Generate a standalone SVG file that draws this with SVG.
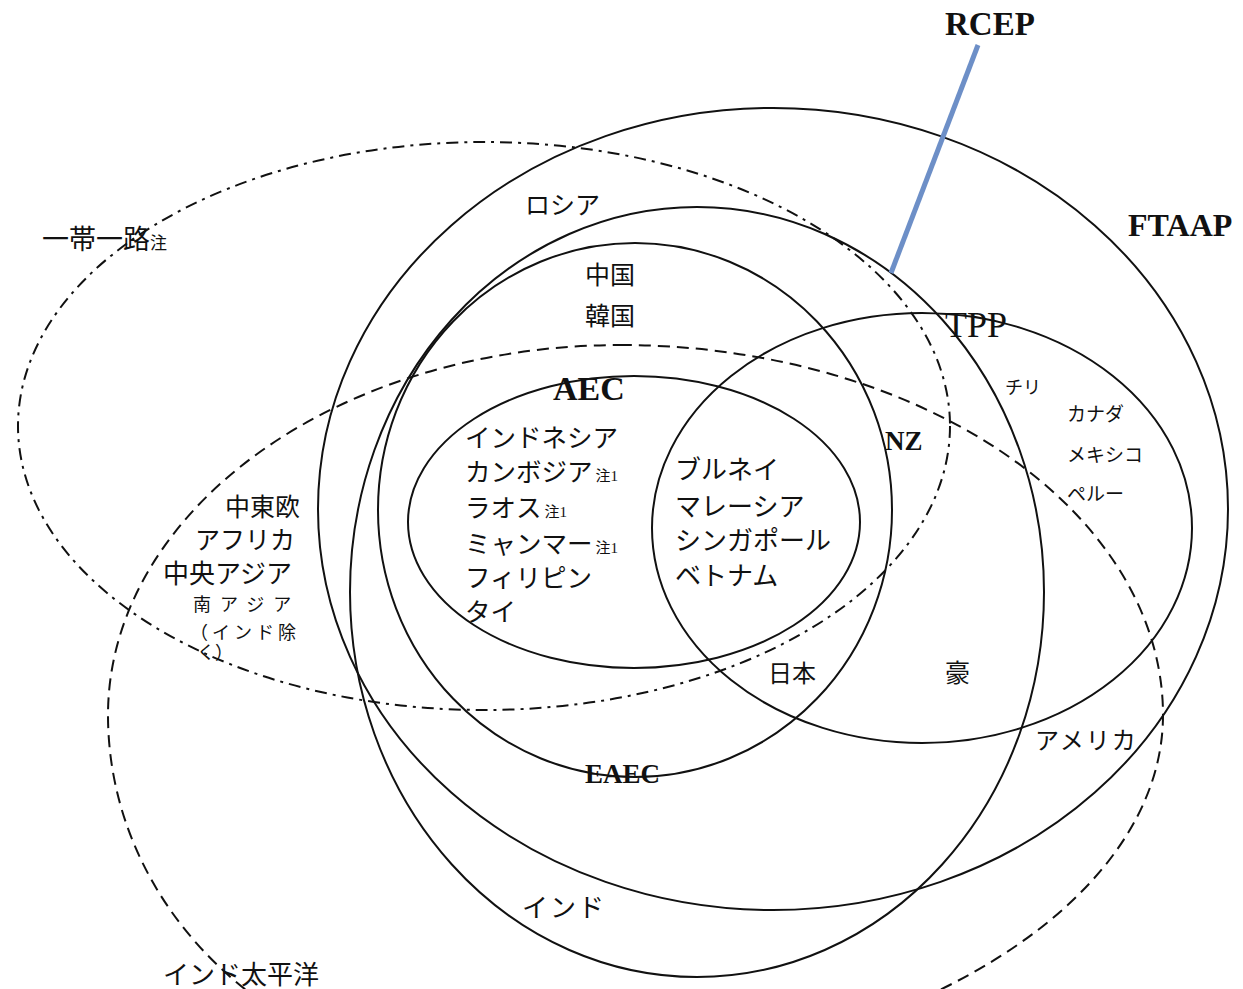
<svg xmlns="http://www.w3.org/2000/svg" width="1243" height="989" viewBox="0 0 1243 989">
<style>
.c{fill:none;stroke:#111;stroke-width:2}
.dash{fill:none;stroke:#111;stroke-width:2;stroke-dasharray:12 7}
.dd{fill:none;stroke:#111;stroke-width:2;stroke-dasharray:12 6 3 6}
.lat{font-family:"Liberation Serif",serif;fill:#111}
.jp{font-family:"Liberation Serif","Noto Sans CJK JP",serif;fill:#111}
.b{font-weight:bold}
</style>
<rect width="1243" height="989" fill="#fff"/>
<g id="ftaap">
<ellipse class="c" cx="773" cy="509" rx="455" ry="401"/>
<text class="lat b" x="1128" y="236" font-size="32">FTAAP</text>
<text class="jp" x="525" y="214" font-size="25">ロシア</text>
<text class="jp" x="1067" y="421" font-size="19">カナダ</text>
<text class="jp" x="1067" y="462" font-size="19">メキシコ</text>
<text class="jp" x="1067" y="501" font-size="19">ペルー</text>
<text class="jp" x="1035" y="749" font-size="24" letter-spacing="2">アメリカ</text>
</g>
<g id="rcep">
<ellipse class="c" cx="697" cy="592" rx="347" ry="385"/>
<text class="lat b" x="945" y="35" font-size="33">RCEP</text>
<text class="lat b" x="885" y="450" font-size="27">NZ</text>
<text class="jp" x="945" y="682" font-size="25">豪</text>
<text class="jp" x="522" y="917" font-size="26" letter-spacing="2">インド</text>
</g>
<g id="eaec">
<ellipse class="c" cx="635" cy="510" rx="257" ry="267"/>
<text class="lat b" x="585" y="783" font-size="27">EAEC</text>
<text class="jp" x="585" y="284" font-size="25">中国</text>
<text class="jp" x="585" y="325" font-size="25">韓国</text>
<text class="jp" x="768" y="682" font-size="24">日本</text>
</g>
<g id="aec">
<ellipse class="c" cx="634" cy="522" rx="226" ry="146"/>
<text class="lat b" x="553" y="400" font-size="34">AEC</text>
<text class="jp" x="465" y="447" font-size="25.5">インドネシア</text>
<text class="jp" x="465" y="481" font-size="25.5">カンボジア<tspan font-size="15" dx="3">注1</tspan></text>
<text class="jp" x="465" y="517" font-size="25.5">ラオス<tspan font-size="15" dx="3">注1</tspan></text>
<text class="jp" x="465" y="553" font-size="25.5">ミャンマー<tspan font-size="15" dx="3">注1</tspan></text>
<text class="jp" x="465" y="587" font-size="25.5">フィリピン</text>
<text class="jp" x="465" y="621" font-size="25.5">タイ</text>
<text class="jp" x="675" y="479" font-size="26">ブルネイ</text>
<text class="jp" x="675" y="516" font-size="26">マレーシア</text>
<text class="jp" x="675" y="550" font-size="26">シンガポール</text>
<text class="jp" x="675" y="585" font-size="26">ベトナム</text>
</g>
<g id="tpp">
<ellipse class="c" cx="922" cy="528" rx="270" ry="215"/>
<text class="lat" x="945" y="337" font-size="36">TPP</text>
<text class="jp" x="1005" y="394" font-size="18">チリ</text>
</g>
<g id="indo-pacific">
<path class="dash" d="M620 345 A543 370 0 0 1 1163 715 A652 365 0 0 1 511 1080 A403 365 0 0 1 108 715 A512 370 0 0 1 620 345 Z"/>
<text class="jp" x="163" y="984" font-size="26">インド太平洋</text>
</g>
<g id="bri">
<ellipse class="dd" cx="484" cy="426" rx="466" ry="284"/>
<text class="jp" x="42" y="249" font-size="27">一帯一路<tspan font-size="17">注</tspan></text>
<text class="jp" x="225" y="516" font-size="25">中東欧</text>
<text class="jp" x="195" y="549" font-size="25">アフリカ</text>
<text class="jp" x="163" y="583" font-size="26">中央アジア</text>
<text class="jp" x="193" y="611" font-size="18" letter-spacing="9">南アジア</text>
<text class="jp" x="190" y="639" font-size="18" letter-spacing="4">（インド除</text>
<text class="jp" x="197" y="659" font-size="18">く）</text>
</g>
<g id="connectors">
<line x1="978" y1="45" x2="891" y2="273" stroke="#6d8fc7" stroke-width="5"/>
</g>
</svg>
